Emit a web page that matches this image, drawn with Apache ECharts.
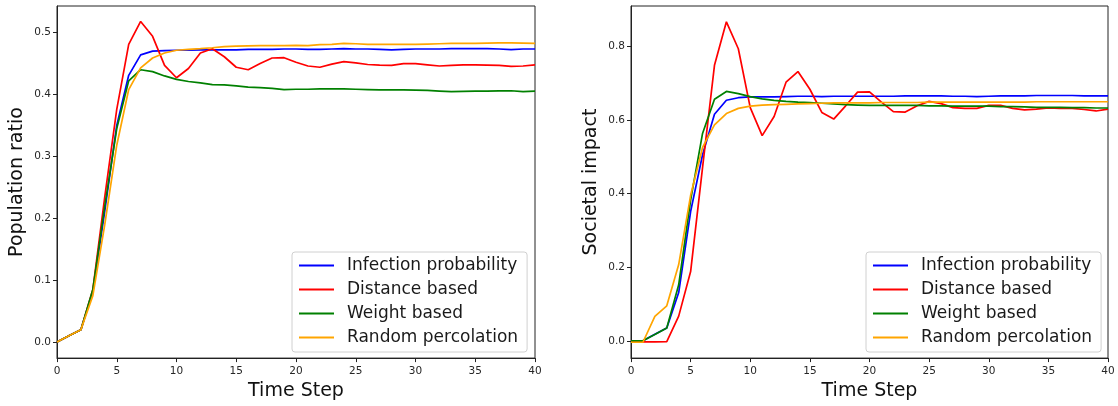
<!DOCTYPE html>
<html>
<head>
<meta charset="utf-8">
<script src="https://cdn.jsdelivr.net/npm/echarts@6/dist/echarts.min.js"></script>
<style>
  html, body { margin: 0; padding: 0; background: #fff; }
  #chart { width: 1118px; height: 406px; }
</style>
</head>
<body>
<div id="chart"></div>
<script>
// ---- Data ----
const timeSteps = Array.from({length: 41}, (_, i) => i);
const seriesNames = ['Infection probability', 'Distance based', 'Weight based', 'Random percolation'];
const seriesColors = ['#0000ff', '#ff0000', '#008000', '#ffa500'];

// Left panel: Population ratio
const popInfection = [0, 0.01, 0.02, 0.082, 0.212, 0.35, 0.431, 0.464, 0.470, 0.471, 0.4715, 0.4715, 0.472, 0.472, 0.472, 0.472, 0.473, 0.473, 0.473, 0.4735, 0.4735, 0.473, 0.473, 0.4735, 0.474, 0.4735, 0.4735, 0.473, 0.472, 0.473, 0.4735, 0.4735, 0.4735, 0.474, 0.474, 0.474, 0.474, 0.4735, 0.4725, 0.4735, 0.4735];
const popDistance = [0, 0.01, 0.02, 0.085, 0.235, 0.376, 0.481, 0.518, 0.494, 0.447, 0.427, 0.442, 0.467, 0.474, 0.461, 0.444, 0.440, 0.450, 0.459, 0.4595, 0.452, 0.446, 0.444, 0.449, 0.453, 0.451, 0.4485, 0.4475, 0.447, 0.450, 0.450, 0.448, 0.446, 0.447, 0.448, 0.448, 0.4475, 0.447, 0.4455, 0.446, 0.448];
const popWeight = [0, 0.01, 0.02, 0.085, 0.22, 0.345, 0.422, 0.440, 0.437, 0.430, 0.4245, 0.421, 0.4187, 0.416, 0.4155, 0.414, 0.412, 0.411, 0.410, 0.408, 0.4085, 0.4085, 0.409, 0.409, 0.409, 0.4085, 0.408, 0.4075, 0.4075, 0.4075, 0.407, 0.4065, 0.4055, 0.4045, 0.405, 0.4055, 0.4055, 0.406, 0.406, 0.4045, 0.4055];
const popRandom = [0, 0.01, 0.02, 0.075, 0.19, 0.318, 0.408, 0.443, 0.459, 0.467, 0.4715, 0.473, 0.474, 0.4755, 0.4775, 0.478, 0.4785, 0.479, 0.479, 0.479, 0.4795, 0.479, 0.4805, 0.481, 0.4825, 0.482, 0.481, 0.481, 0.481, 0.481, 0.481, 0.4815, 0.482, 0.4825, 0.4825, 0.4825, 0.483, 0.4835, 0.4835, 0.483, 0.4825];

// Right panel: Societal impact
const socInfection = [0, 0, 0.018, 0.035, 0.131, 0.351, 0.505, 0.615, 0.653, 0.660, 0.662, 0.662, 0.662, 0.663, 0.664, 0.664, 0.663, 0.664, 0.664, 0.664, 0.664, 0.664, 0.664, 0.665, 0.665, 0.665, 0.665, 0.664, 0.664, 0.663, 0.664, 0.665, 0.665, 0.665, 0.666, 0.666, 0.666, 0.666, 0.665, 0.665, 0.665];
const socDistance = [-0.003, -0.003, -0.003, -0.002, 0.067, 0.188, 0.47, 0.748, 0.866, 0.793, 0.633, 0.557, 0.609, 0.702, 0.731, 0.683, 0.620, 0.602, 0.638, 0.675, 0.676, 0.648, 0.622, 0.621, 0.638, 0.650, 0.644, 0.633, 0.631, 0.631, 0.639, 0.639, 0.631, 0.627, 0.629, 0.632, 0.631, 0.631, 0.628, 0.624, 0.629];
const socWeight = [0, 0, 0.017, 0.035, 0.152, 0.382, 0.563, 0.656, 0.677, 0.671, 0.663, 0.657, 0.653, 0.650, 0.648, 0.647, 0.645, 0.643, 0.641, 0.640, 0.639, 0.639, 0.639, 0.639, 0.639, 0.638, 0.638, 0.637, 0.637, 0.637, 0.637, 0.636, 0.636, 0.635, 0.634, 0.634, 0.634, 0.633, 0.633, 0.632, 0.632];
const socRandom = [-0.004, -0.004, 0.066, 0.095, 0.207, 0.395, 0.525, 0.586, 0.617, 0.631, 0.637, 0.640, 0.641, 0.642, 0.643, 0.644, 0.645, 0.646, 0.646, 0.646, 0.646, 0.647, 0.647, 0.647, 0.647, 0.648, 0.648, 0.648, 0.648, 0.648, 0.648, 0.648, 0.648, 0.648, 0.649, 0.649, 0.649, 0.649, 0.649, 0.649, 0.649];

const xTicks = [0, 5, 10, 15, 20, 25, 30, 35, 40];
const popTicks = [0.0, 0.1, 0.2, 0.3, 0.4, 0.5];
const socTicks = [0.0, 0.2, 0.4, 0.6, 0.8];

// ---- Chart ----
const FONT = 'DejaVu Sans';
const AX = '#222';
const chart = echarts.init(document.getElementById('chart'), null, {renderer: 'canvas'});

function xAxisCfg(gridIndex) {
  return {
    gridIndex, type: 'value', min: 0, max: 40,
    name: 'Time Step', nameLocation: 'middle', nameGap: 21,
    nameTextStyle: {fontFamily: FONT, fontSize: 19, color: '#111'},
    axisLine: {show: true, onZero: false, lineStyle: {color: AX, width: 1}},
    axisTick: {show: true, length: 4, customValues: xTicks, lineStyle: {color: AX, width: 1}},
    axisLabel: {fontFamily: FONT, fontSize: 10.5, color: '#262626', margin: 8, customValues: xTicks},
    splitLine: {show: false}
  };
}
function yAxisCfg(gridIndex, min, max, ticks, name) {
  return {
    gridIndex, type: 'value', min, max,
    name, nameLocation: 'middle', nameGap: 30,
    nameTextStyle: {fontFamily: FONT, fontSize: 19, color: '#111'},
    axisLine: {show: true, onZero: false, lineStyle: {color: AX, width: 1}},
    axisTick: {show: true, length: 4, customValues: ticks, lineStyle: {color: AX, width: 1}},
    axisLabel: {fontFamily: FONT, fontSize: 10.5, color: '#262626', margin: 6,
      customValues: ticks, formatter: v => Number(v).toFixed(1)},
    splitLine: {show: false}
  };
}
function legendCfg(left) {
  return {
    orient: 'vertical', left, top: 252,
    itemWidth: 35, itemHeight: 17, itemGap: 7,
    padding: [5, 9, 6, 6],
    backgroundColor: 'rgba(255,255,255,0.85)',
    borderColor: '#d0d0d0', borderWidth: 1, borderRadius: 3,
    itemStyle: {opacity: 0},
    lineStyle: {width: 2},
    textStyle: {fontFamily: FONT, fontSize: 17, color: '#1a1a1a', padding: [0, 0, 0, 8]},
    data: seriesNames,
    selectedMode: false
  };
}

const popData = [popInfection, popDistance, popWeight, popRandom];
const socData = [socInfection, socDistance, socWeight, socRandom];
const series = [];
[popData, socData].forEach((set, gi) => {
  set.forEach((vals, si) => {
    series.push({
      name: seriesNames[si], type: 'line', xAxisIndex: gi, yAxisIndex: gi,
      data: timeSteps.map((t, i) => [t, vals[i]]),
      symbol: 'none', smooth: false, silent: true, animation: false,
      lineStyle: {color: seriesColors[si], width: 1.7},
      itemStyle: {color: seriesColors[si]}
    });
  });
});

chart.setOption({
  animation: false,
  backgroundColor: '#fff',
  grid: [
    {left: 57, top: 6, width: 478, height: 355, show: true, borderColor: AX, borderWidth: 1, backgroundColor: 'transparent'},
    {left: 631, top: 6, width: 477, height: 355, show: true, borderColor: AX, borderWidth: 1, backgroundColor: 'transparent'}
  ],
  xAxis: [xAxisCfg(0), xAxisCfg(1)],
  yAxis: [
    yAxisCfg(0, -0.026, 0.543, popTicks, 'Population ratio'),
    yAxisCfg(1, -0.047, 0.909, socTicks, 'Societal impact')
  ],
  legend: [legendCfg(292), legendCfg(866)],
  series
});
</script>
</body>
</html>
